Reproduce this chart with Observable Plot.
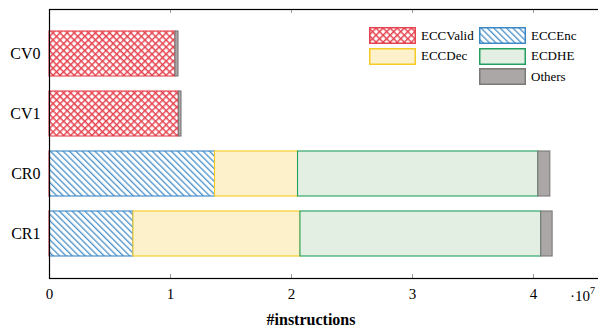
<!DOCTYPE html>
<html>
<head>
<meta charset="utf-8">
<script src="https://cdn.jsdelivr.net/npm/d3@7"></script>
<script src="https://cdn.jsdelivr.net/npm/@observablehq/plot@0.6"></script>
<style>
  html, body { margin: 0; padding: 0; background: #fff; }
  #wrap { position: relative; width: 598px; height: 335px; overflow: hidden; font-family: "Liberation Serif", "DejaVu Serif", "Noto Serif", "Times New Roman", serif; }
  #chart { width: 606px; }
  #chart svg { max-width: none; }
  #legend { position: absolute; left: 369px; top: 27px; font-size: 13px; color: #000; }
  .item { position: absolute; display: flex; align-items: center; white-space: nowrap; }
  .item svg { display: block; margin-right: 5px; }
  #xlabel { position: absolute; top: 311px; left: 0; width: 622px; text-align: center; font-weight: bold; font-size: 16px; }
  #mult { position: absolute; left: 570px; top: 286px; font-size: 15px; }
  #mult sup { font-size: 10px; position: relative; top: -1px; }
</style>
</head>
<body>
<svg width="0" height="0" style="position:absolute">
  <defs>
    <pattern id="p-valid" patternUnits="userSpaceOnUse" width="5" height="5" patternTransform="rotate(45)">
      <rect width="5" height="5" fill="#fff"/>
      <path d="M0,0.7 H5 M0.7,0 V5" stroke="#e5434f" stroke-width="1.5"/>
    </pattern>
    <pattern id="p-enc" patternUnits="userSpaceOnUse" width="4.5" height="4.5" patternTransform="rotate(-45)">
      <rect width="4.5" height="4.5" fill="#fff"/>
      <path d="M0.7,0 V4.5" stroke="#3a88c6" stroke-width="1.2"/>
    </pattern>
  </defs>
</svg>
<div id="wrap">
  <div id="chart"></div>
  <div id="legend"></div>
  <div id="xlabel">#instructions</div>
  <div id="mult">·10<sup>7</sup></div>
</div>
<script>
// ---- data ----
const categories = ["CV0", "CV1", "CR0", "CR1"];
const series = ["ECCValid", "ECCEnc", "ECCDec", "ECDHE", "Others"];
const eccValid = [1.041e7, 1.069e7, 0.004e7, 0.004e7];
const eccEnc   = [0, 0, 1.364e7, 0.690e7];
const eccDec   = [0, 0, 0.686e7, 1.380e7];
const ecdhe    = [0, 0, 1.986e7, 1.990e7];
const others   = [0.025e7, 0.022e7, 0.099e7, 0.094e7];
const xTicks = [0, 1e7, 2e7, 3e7, 4e7];

// ---- styles ----
const fills   = {ECCValid: "url(#p-valid)", ECCEnc: "url(#p-enc)", ECCDec: "#fdf1cc", ECDHE: "#e4efe3", Others: "#aba7a7"};
const strokes = {ECCValid: "#e5434f", ECCEnc: "#3a88c6", ECCDec: "#f3cb22", ECDHE: "#22a060", Others: "#7b7878"};

const valuesBySeries = {ECCValid: eccValid, ECCEnc: eccEnc, ECCDec: eccDec, ECDHE: ecdhe, Others: others};
const data = [];
categories.forEach((c, i) => {
  series.forEach(s => {
    const v = valuesBySeries[s][i];
    if (v > 0) data.push({cat: c, series: s, value: v});
  });
});

const W = 606, H = 335, mL = 49, mT = 9, mB = 57;
const pxPer = 121; // px per 1e7 (layout)
const xMax = (W - mL) / pxPer * 1e7;
const innerH = H - mT - mB;
const serif = "'Liberation Serif', 'DejaVu Serif', 'Noto Serif', 'Times New Roman', serif";

const chart = Plot.plot({
  width: W,
  height: H,
  marginLeft: mL,
  marginRight: 0,
  marginTop: mT,
  marginBottom: mB,
  style: {fontFamily: serif, fontSize: "15px", color: "#000", background: "#fff"},
  x: {domain: [0, xMax]},
  y: {domain: categories, paddingInner: 0.25, paddingOuter: 0.34},
  color: {type: "identity"},
  marks: [
    Plot.barX(data, {
      y: "cat", x: "value", z: "series",
      fill: d => fills[d.series],
      stroke: d => strokes[d.series],
      strokeWidth: 1.1,
      inset: 0
    }),
    Plot.ruleX(xTicks.slice(1), {x: d => d, stroke: "#9a9a9a", insetTop: innerH - 4}),
    Plot.ruleX(xTicks.slice(1), {x: d => d, stroke: "#9a9a9a", insetBottom: innerH - 4}),
    Plot.frame({stroke: "#000", strokeWidth: 1.2}),
    Plot.axisX(xTicks, {tickSize: 0, tickPadding: 10, fontSize: 15, tickFormat: d => String(d / 1e7), label: null}),
    Plot.axisY({tickSize: 0, tickPadding: 9, fontSize: 16, label: null})
  ]
});
chart.style.fontFamily = serif;
document.getElementById("chart").appendChild(chart);

// ---- legend ----
const legendPos = {
  ECCValid: [0, 0], ECCDec: [0, 20.5],
  ECCEnc: [110, 0], ECDHE: [110, 20.5], Others: [110, 41]
};
const legend = document.getElementById("legend");
series.forEach(s => {
  const [lx, ly] = legendPos[s];
  const item = document.createElement("div");
  item.className = "item";
  item.style.left = lx + "px";
  item.style.top = ly + "px";
  item.innerHTML = `<svg width="47" height="17"><rect x="0.75" y="0.75" width="45.5" height="15.5" fill="${fills[s]}" stroke="${strokes[s]}" stroke-width="1.5"/></svg><span>${s}</span>`;
  legend.appendChild(item);
});
</script>
</body>
</html>
